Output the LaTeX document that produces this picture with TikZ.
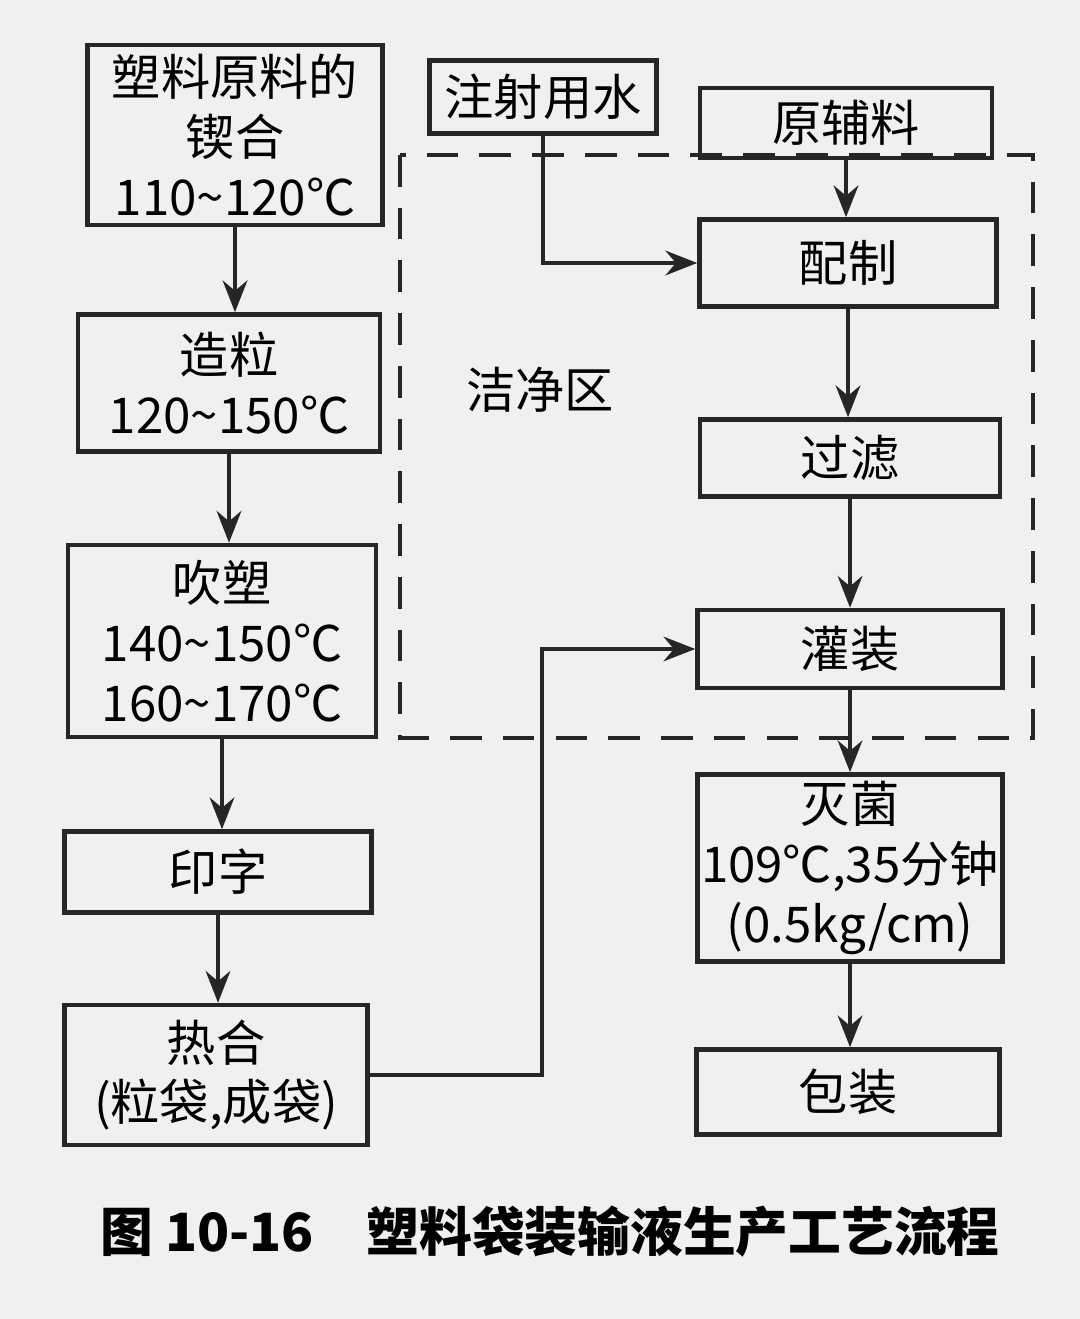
\documentclass[tikz,border=0pt]{standalone}
\usepackage{fontspec}
\setmainfont{Noto Sans CJK SC}
\usetikzlibrary{arrows.meta}
\begin{document}
\begin{tikzpicture}[x=0.01cm,y=-0.01cm,
  bx/.style 2 args={draw=black!85,line width=1.3pt,minimum width=#1*0.01cm,minimum height=#2*0.01cm,align=center,inner sep=1pt,font=\fontsize{14}{17}\selectfont},
  ar/.style={draw=black!85,line width=1.2pt,-{Stealth[length=9pt,width=7pt]}}]
\fill[black!6] (0,0) rectangle (1080,1319);
\useasboundingbox (0,0) rectangle (1080,1319);
\draw[line width=1.2pt,black!85,dash pattern=on 9pt off 6pt] (400,155) rectangle (1033,738);
\node[bx={295}{180}] (a) at (235,135) {塑料原料的\\锲合\\110\textasciitilde120℃};
\node[bx={302}{137}] (b) at (229,383) {造粒\\120\textasciitilde150℃};
\node[bx={308}{192}] (c) at (222,641) {吹塑\\140\textasciitilde150℃\\160\textasciitilde170℃};
\node[bx={307}{81}] (d) at (218,872) {印字};
\node[bx={303}{140}] (e) at (216,1075) {热合\\(粒袋,成袋)};
\node[bx={227}{73}] (w) at (543,97) {注射用水};
\node[bx={292}{70}] (y) at (846,123) {原辅料};
\node[bx={297}{87}] (p) at (848,263) {配制};
\node[bx={300}{77}] (g) at (850,458) {过滤};
\node[bx={305}{78}] (h) at (850,649) {灌装};
\node[bx={305}{187}] (m) at (850,868) {灭菌\\109℃,35分钟\\(0.5kg/cm)};
\node[bx={303}{85}] (k) at (848,1092) {包装};
\node[font=\fontsize{14}{17}\selectfont] (z) at (540,390) {洁净区};
\node[font=\fontsize{15}{18}\selectfont\bfseries] (t) at (550,1232) {图 10-16\quad 塑料袋装输液生产工艺流程};
\draw[ar] (a.south) -- (a.south|-b.north);
\draw[ar] (b.south) -- (b.south|-c.north);
\draw[ar] (c.south) -- (c.south|-d.north);
\draw[ar] (d.south) -- (d.south|-e.north);
\draw[ar] (y.south) -- (y.south|-p.north);
\draw[ar] (p.south) -- (p.south|-g.north);
\draw[ar] (g.south) -- (g.south|-h.north);
\draw[ar] (h.south) -- (h.south|-m.north);
\draw[ar] (m.south) -- (m.south|-k.north);
\draw[ar] (w.south) |- (p.west);
\draw[ar] (e.east) -- ++(172,0) |- (h.west);
\end{tikzpicture}
\end{document}
